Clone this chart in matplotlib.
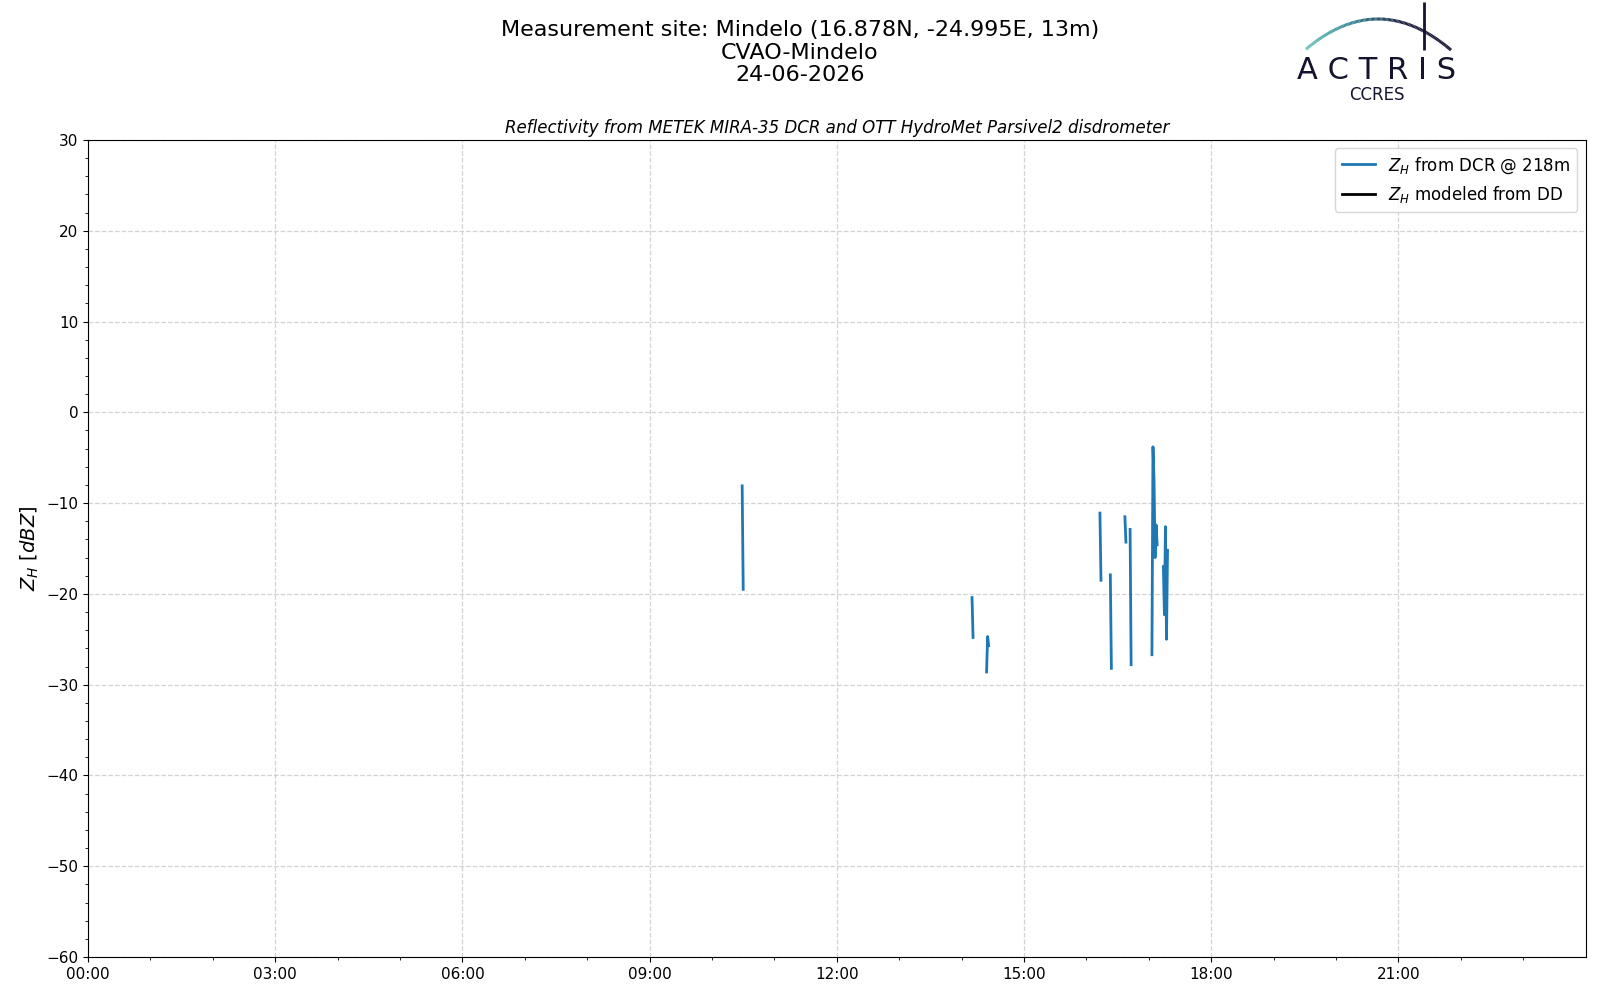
import numpy as np
import pandas as pd
import matplotlib
matplotlib.use("Agg")
import matplotlib.pyplot as plt
import matplotlib.dates as mdates
from matplotlib.collections import LineCollection
from matplotlib.ticker import MultipleLocator

# ---------------- data ----------------
date_str = "2026-06-24"
# DCR reflectivity at 218 m (NaN breaks the line between rain events)
zh_time = ["10:29", "10:30", "10:31",
           "14:10", "14:11", "14:12",
           "14:24", "14:25", "14:26", "14:27",
           "16:13", "16:14", "16:15",
           "16:23", "16:24", "16:25",
           "16:37", "16:38", "16:39",
           "16:42", "16:43", "16:44",
           "17:03", "17:04", "17:05", "17:06", "17:07", "17:08", "17:09",
           "17:14", "17:15", "17:16", "17:17", "17:18", "17:19"]
zh_dcr = [-8.1, -19.5, np.nan,
          -20.4, -24.8, np.nan,
          -28.6, -24.7, -25.7, np.nan,
          -11.1, -18.5, np.nan,
          -17.9, -28.2, np.nan,
          -11.5, -14.3, np.nan,
          -12.9, -27.8, np.nan,
          -26.7, -3.8, -7.3, -16.0, -12.4, -14.6, np.nan,
          -17.0, -22.3, -12.6, -25.0, -15.2, np.nan]
# Z_H modeled from disdrometer (no valid data this day)
zh_dd_time = []
zh_dd = []

x_ticks_major_hours = 3
y_range = (-60, 30)

site_title = "Measurement site: Mindelo (16.878N, -24.995E, 13m)\nCVAO-Mindelo\n24-06-2026"
plot_title = "Reflectivity from METEK MIRA-35 DCR and OTT HydroMet Parsivel2 disdrometer"
label_dcr = "$Z_H$ from DCR @ 218m"
label_dd = "$Z_H$ modeled from DD"

# ---------------- figure ----------------
t_dcr = pd.to_datetime([f"{date_str} {t}" for t in zh_time])
t_dd = pd.to_datetime([f"{date_str} {t}" for t in zh_dd_time])

fig = plt.figure(figsize=(16, 10), dpi=100)
ax = fig.add_axes([0.055, 0.043, 0.936, 0.817])

ax.plot(t_dcr, zh_dcr, color="tab:blue", lw=2, label=label_dcr)
ax.plot(t_dd, zh_dd, color="black", lw=2, label=label_dd)

day0 = pd.Timestamp(date_str)
ax.set_xlim(day0, day0 + pd.Timedelta(hours=23, minutes=59, seconds=59))
ax.set_ylim(*y_range)
ax.xaxis.set_major_locator(mdates.HourLocator(byhour=range(0, 24, x_ticks_major_hours)))
ax.xaxis.set_minor_locator(mdates.HourLocator())
ax.xaxis.set_major_formatter(mdates.DateFormatter("%H:%M"))
ax.yaxis.set_major_locator(MultipleLocator(10))
ax.yaxis.set_minor_locator(MultipleLocator(2))
ax.tick_params(axis="both", which="major", labelsize=11)
ax.grid(True, which="major", linestyle="--", color="lightgray", lw=0.9)
ax.set_axisbelow(True)

ax.set_ylabel("$Z_H$ [$dBZ$]", fontsize=14)
ax.set_title(plot_title, fontsize=12, style="italic", pad=5)
ax.legend(loc="upper right", fontsize=12)

fig.text(0.5, 0.98, site_title, ha="center", va="top", fontsize=16, linespacing=1.17)

# ---------------- ACTRIS logo ----------------
lax = fig.add_axes([1285 / 1600, 1 - 105 / 1000, 185 / 1600, 105 / 1000])
lax.set_xlim(1285, 1470)
lax.set_ylim(105, 0)
lax.axis("off")
xs = np.linspace(1306, 1451, 120)
ys = 19 + 31 * ((xs - 1378) / 73) ** 2
pts = np.column_stack([xs, ys]).reshape(-1, 1, 2)
segs = np.concatenate([pts[:-1], pts[1:]], axis=1)
cmap = matplotlib.colors.LinearSegmentedColormap.from_list("actris", ["#6cc3bd", "#2a7f8f", "#1b1b3c", "#14142e"])
lc = LineCollection(segs, cmap=cmap, linewidths=2.2)
lc.set_array(np.linspace(0, 1, len(segs)))
lax.add_collection(lc)
lax.plot([1424, 1424], [2, 50], color="#14142e", lw=2, solid_capstyle="butt")
lax.text(1377, 79, "A C T R I S", ha="center", va="baseline", fontsize=22,
         color="#14142e", family="DejaVu Sans")
lax.text(1377, 100, "CCRES", ha="center", va="baseline", fontsize=12,
         color="#14142e", family="DejaVu Sans")

fig.savefig("out.png", dpi=100)
